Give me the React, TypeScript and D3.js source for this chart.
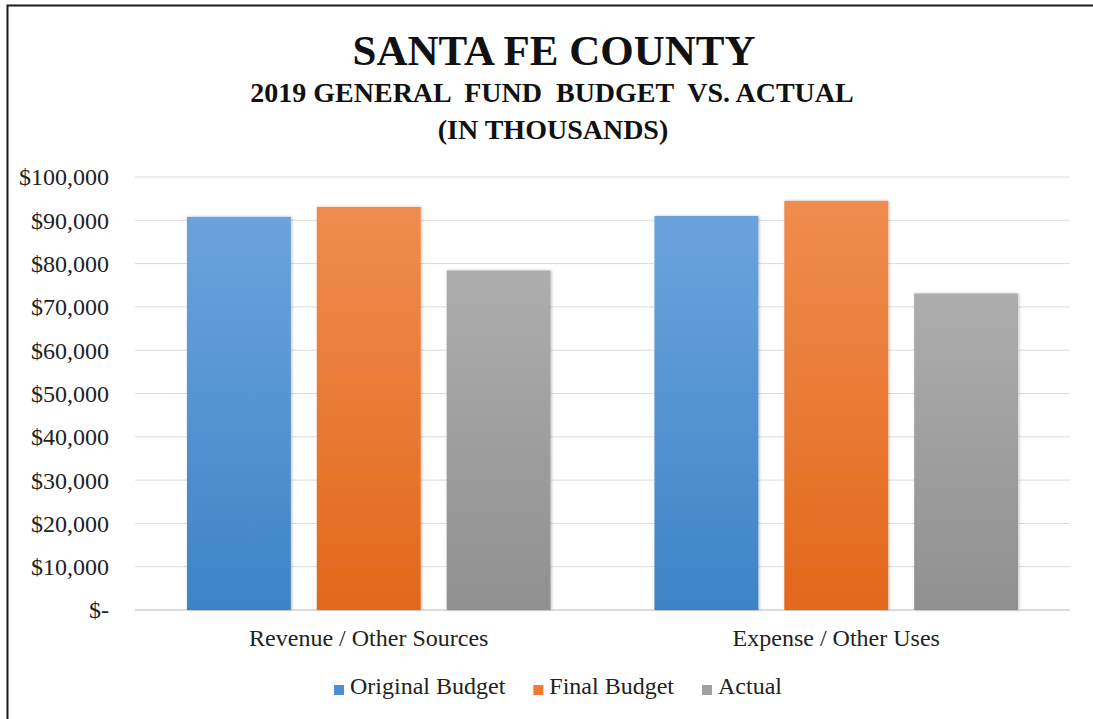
import { useMemo } from "react";
import * as d3 from "d3";

const categories = ["Revenue / Other Sources", "Expense / Other Uses"];
const seriesNames = ["Original Budget", "Final Budget", "Actual"];
const originalBudget = [90800, 91000];
const finalBudget = [93100, 94500];
const actual = [78400, 73100];
const yTicks = [0, 10000, 20000, 30000, 40000, 50000, 60000, 70000, 80000, 90000, 100000];
const titleLines = ["SANTA FE COUNTY", "2019 GENERAL  FUND  BUDGET  VS. ACTUAL", "(IN THOUSANDS)"];

// gradient stops: top colour, bottom colour
const seriesColors = [
  { top: "#6ba3dc", bottom: "#3d84c7", swatch: "#4a8fd2" },
  { top: "#f08c50", bottom: "#e2681a", swatch: "#ee7a30" },
  { top: "#adadad", bottom: "#909090", swatch: "#a0a0a0" },
];

const FONT = '"Liberation Serif", "Times New Roman", serif';

const measure = (text: string, size: number) => {
  const ctx = document.createElement("canvas").getContext("2d");
  if (!ctx) return text.length * size * 0.45;
  ctx.font = `${size}px "Liberation Serif"`;
  return ctx.measureText(text).width;
};

export default function App() {
  const width = 1093;
  const height = 719;
  const margins = { top: 177, right: 23, bottom: 109, left: 135 };
  const plotRight = width - margins.right;
  const plotBottom = height - margins.bottom;

  const values = [originalBudget, finalBudget, actual];

  const yScale = d3.scaleLinear().domain([0, 100000]).range([plotBottom, margins.top]);
  const x0 = d3.scaleBand<string>().domain(categories).range([margins.left, plotRight]);
  const x1 = d3
    .scaleBand<string>()
    .domain(seriesNames)
    .range([0, x0.bandwidth()])
    .paddingInner(0.2)
    .paddingOuter(0.4);

  const fmt = (v: number) => (v === 0 ? "$-" : "$" + d3.format(",")(v));

  // legend layout, centred under the chart
  const legendSize = 24;
  const legend = useMemo(() => {
    const sw = 10;
    const textGap = 6;
    const itemGap = 28;
    const widths = seriesNames.map((s) => sw + textGap + measure(s, legendSize));
    const total = d3.sum(widths) + itemGap * (seriesNames.length - 1);
    let x = 558 - total / 2;
    return seriesNames.map((s, i) => {
      const item = { name: s, x, color: seriesColors[i].swatch };
      x += widths[i] + itemGap;
      return item;
    });
  }, []);

  return (
    <svg
      width={width}
      height={height}
      style={{ position: "absolute", left: 0, top: 0, display: "block", background: "#fff" }}
      fontFamily={FONT}
    >
      <defs>
        {seriesColors.map((c, i) => (
          <linearGradient key={i} id={`grad${i}`} x1="0" y1="0" x2="0" y2="1">
            <stop offset="0%" stopColor={c.top} />
            <stop offset="100%" stopColor={c.bottom} />
          </linearGradient>
        ))}
        <filter id="shadow" x="-10%" y="-10%" width="120%" height="120%">
          <feDropShadow dx="1" dy="0" stdDeviation="1.5" floodColor="#000" floodOpacity="0.25" />
        </filter>
      </defs>

      <path d={`M7.5,${height} V5.5 H${width}`} fill="none" stroke="#1a1a1a" strokeWidth={2} />

      {/* titles */}
      <text x={554} y={65} textAnchor="middle" fontSize={43} fontWeight="bold" fill="#111">
        {titleLines[0]}
      </text>
      <text x={552} y={102} textAnchor="middle" fontSize={28} fontWeight="bold" fill="#111" style={{ whiteSpace: "pre" }}>
        {titleLines[1]}
      </text>
      <text x={553} y={139} textAnchor="middle" fontSize={28} fontWeight="bold" fill="#111">
        {titleLines[2]}
      </text>

      {/* gridlines and y labels */}
      {yTicks.map((t) => (
        <g key={t}>
          <line
            x1={margins.left}
            x2={plotRight}
            y1={yScale(t)}
            y2={yScale(t)}
            stroke={t === 0 ? "#d0d0d0" : "#dcdcdc"}
            strokeWidth={t === 0 ? 1.5 : 1}
          />
          <text x={109} y={yScale(t)} dy="0.35em" textAnchor="end" fontSize={24} fill="#222">
            {fmt(t)}
          </text>
        </g>
      ))}

      {/* bars */}
      {categories.map((c, ci) => (
        <g key={c} transform={`translate(${x0(c)},0)`}>
          {seriesNames.map((s, si) => (
            <rect
              key={s}
              x={x1(s)}
              y={yScale(values[si][ci])}
              width={x1.bandwidth()}
              height={yScale(0) - yScale(values[si][ci])}
              fill={`url(#grad${si})`}
              filter="url(#shadow)"
            />
          ))}
          <text
            x={x0.bandwidth() / 2}
            y={646}
            textAnchor="middle"
            fontSize={24}
            fill="#222"
          >
            {c}
          </text>
        </g>
      ))}

      {/* legend */}
      {legend.map((l) => (
        <g key={l.name} transform={`translate(${l.x},0)`}>
          <rect x={0} y={685} width={10} height={10} fill={l.color} />
          <text x={16} y={694} fontSize={legendSize} fill="#222">
            {l.name}
          </text>
        </g>
      ))}
    </svg>
  );
}
